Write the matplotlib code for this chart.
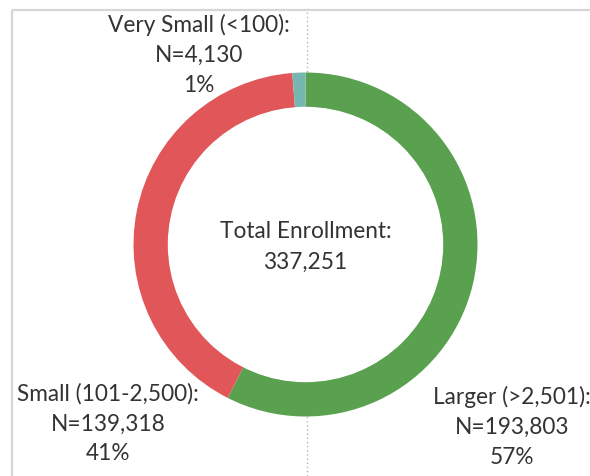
import matplotlib
matplotlib.use("Agg")
import matplotlib.pyplot as plt
from matplotlib.patches import Circle

categories = ["Larger (>2,501)", "Small (101-2,500)", "Very Small (<100)"]
values = [193803, 139318, 4130]
colors = ["#59a14f", "#e15759", "#76b7b2"]
total = sum(values)

W, H = 590, 476
fig = plt.figure(figsize=(W / 100, H / 100), dpi=100)
ax = fig.add_axes([0, 0, 1, 1])
ax.set_xlim(0, W)
ax.set_ylim(0, H)
ax.set_aspect("equal")
ax.axis("off")

cx, cy = 305.5, H - 244.5
R, ring = 172, 35

# frame lines
ax.plot([11.5, W], [H - 9.5, H - 9.5], color="#d6d6d6", lw=1.6, solid_capstyle="butt", zorder=1)
ax.plot([11.5, 11.5], [0, H - 9.5], color="#d6d6d6", lw=1.6, solid_capstyle="butt", zorder=1)
# dotted reference line
ax.plot([306.5, 306.5], [0, H - 10], color="#b5b5b5", lw=1, ls=(0, (1, 2)), zorder=1)

ax.pie(values, colors=colors, startangle=90, counterclock=False,
       center=(cx, cy), radius=R, frame=True,
       wedgeprops=dict(width=ring, edgecolor="none", linewidth=0))
ax.add_patch(Circle((cx, cy), R - ring, color="white", zorder=2))
ax.set_xlim(0, W)
ax.set_ylim(0, H)
ax.axis("off")

plt.rcParams["font.family"] = ["Lato", "DejaVu Sans"]
tc = "#333333"
fs = 16.3

def label(x, y, lines):
    for i, t in enumerate(lines):
        ax.text(x, H - (y + 30 * i), t, ha="center", va="center", fontsize=fs, color=tc, zorder=5)

pct = [round(v / total * 100) for v in values]
label(199, 25, [categories[2] + ":", f"N={values[2]:,}", f"{pct[2]}%"])
label(108, 394, [categories[1] + ":", f"N={values[1]:,}", f"{pct[1]}%"])
label(512, 397, [categories[0] + ":", f"N={values[0]:,}", f"{pct[0]}%"])
label(305.5, 232, ["Total Enrollment:", f"{total:,}"])

fig.savefig("out.png", dpi=100, facecolor="white")
